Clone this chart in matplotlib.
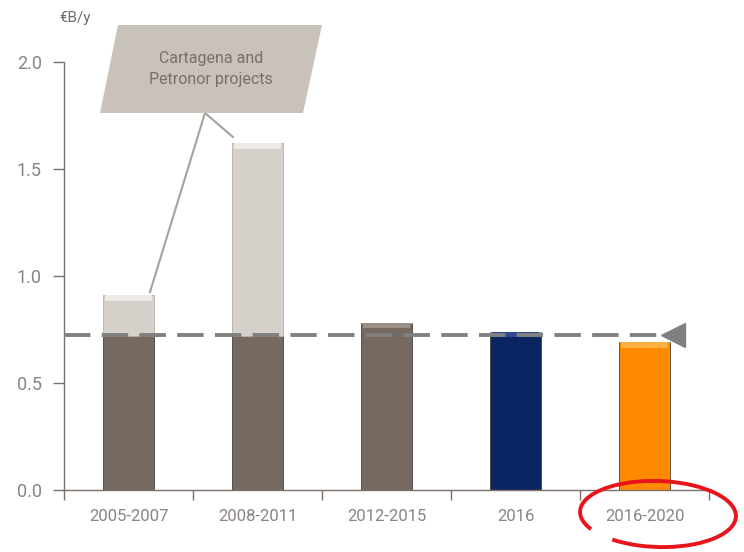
import numpy as np
import matplotlib.pyplot as plt
from matplotlib.patches import Polygon, Arc

# data
categories = ['2005-2007', '2008-2011', '2012-2015', '2016', '2016-2020']
base_vals = [0.72, 0.72, 0.78, 0.74, 0.69]
extra_vals = [0.19, 0.90, 0.0, 0.0, 0.0]   # Cartagena and Petronor projects
avg_line = 0.725
yticks = [0.0, 0.5, 1.0, 1.5, 2.0]

base_colors = ['#766a60', '#766a60', '#766a60', '#0b2462', '#ff8a00']
light = '#d6d0ca'
axis_col = '#7d7068'
text_col = '#8a8480'

plt.rcParams['font.family'] = ['Roboto', 'DejaVu Sans']

fig = plt.figure(figsize=(7.44, 5.52), dpi=100)
ax = fig.add_axes([64 / 744, 1 - 490 / 552, (709 - 64) / 744, (490 - 62) / 552])

x = np.arange(len(categories))
w = 0.4
ax.bar(x, base_vals, width=w, color=base_colors, edgecolor='#4a4038', linewidth=0.6, zorder=2)
ax.bar(x, extra_vals, bottom=base_vals, width=w, color=light, edgecolor='#b8b0a8', linewidth=0.6, zorder=2)
# light top band to hint at the bevel
for xi, b, e, c in zip(x, base_vals, extra_vals, base_colors):
    top = b + e
    hl = '#eeebe7' if e > 0 else ('#9a8f86' if c == '#766a60' else ('#2b4a90' if c == '#0b2462' else '#ffb040'))
    ax.bar(xi, 0.025, bottom=top - 0.025, width=w * 0.9, color=hl, linewidth=0, zorder=3)

# dashed average line with arrow head
ax.plot([-0.5, 4.14], [avg_line, avg_line], ls=(0, (6.8, 2.9)), lw=2.8, color='#808080', zorder=4, clip_on=False)
ax.plot([4.22], [avg_line], marker='<', markersize=17, color='#808080', zorder=4, clip_on=False)

ax.set_xlim(-0.5, 4.5)
ax.set_ylim(0, 2.0)
ax.set_yticks(yticks)
ax.set_yticklabels([f'{v:.1f}' for v in yticks], fontsize=13, color=text_col)
ax.set_xticks(x)
ax.set_xticklabels(categories, fontsize=12, color=text_col)
ax.set_xticks(np.arange(-0.5, 5.0, 1.0), minor=True)
ax.tick_params(axis='x', which='major', length=0, pad=14)
ax.tick_params(axis='x', which='minor', length=7, color=axis_col, width=1, direction='out')
ax.tick_params(axis='y', length=8, color=axis_col, width=1, pad=8)
for s in ['top', 'right']:
    ax.spines[s].set_visible(False)
for s in ['left', 'bottom']:
    ax.spines[s].set_color(axis_col)
    ax.spines[s].set_linewidth(1)

fig.text(75 / 744, 1 - 18 / 552, '€B/y', fontsize=11, color='#6f6a66', ha='center', va='center')

# annotation box (parallelogram)
pts = [(118, 25), (322, 25), (303, 113), (100, 113)]
box = Polygon([(px / 744, 1 - py / 552) for px, py in pts], closed=True,
              transform=fig.transFigure, facecolor='#c9c2bb', edgecolor='none', zorder=5)
fig.patches.append(box)
fig.text(211 / 744, 1 - 69 / 552, 'Cartagena and\nPetronor projects', fontsize=11.5,
         color='#77706a', ha='center', va='center', linespacing=1.5, zorder=6)

# leader lines
origin = (205 / 744, 1 - 113 / 552)
for end in [(150 / 744, 1 - 292 / 552), (233 / 744, 1 - 137 / 552)]:
    fig.add_artist(plt.Line2D([origin[0], end[0]], [origin[1], end[1]], transform=fig.transFigure,
                              color='#a8a29c', lw=1.5))

# red hand-drawn ellipse around the last label
ell = Arc((658 / 744, 1 - 514 / 552), 156 / 744, 66 / 552, angle=-3, theta1=-140, theta2=200,
          transform=fig.transFigure, color='#e8141c', lw=2.8)
fig.patches.append(ell)

fig.savefig('out.png', dpi=100)
